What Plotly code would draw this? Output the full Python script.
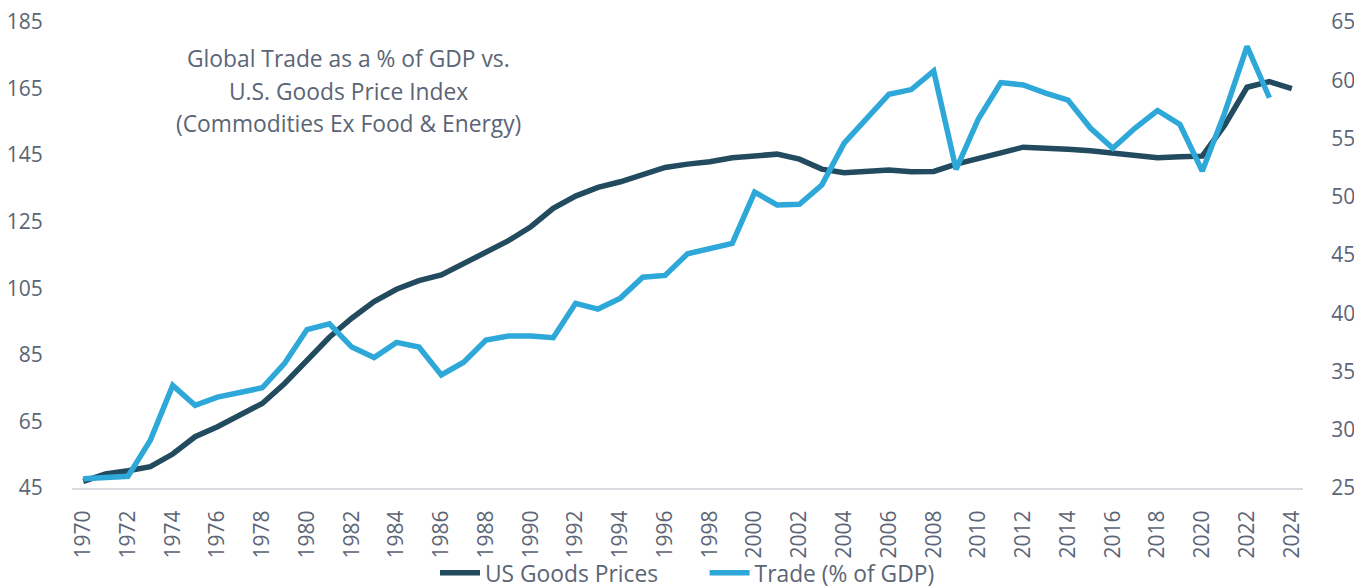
import plotly.graph_objects as go

years = list(range(1970, 2025))
us_goods_prices = [47.0, 49.2, 50.2, 51.4, 55.2, 60.4, 63.4, 66.7, 70.4, 76.4,
                   83.5, 90.3, 96.0, 101.0, 104.7, 107.3, 109.0, 112.3, 116.0, 119.3,
                   123.5, 129.0, 132.7, 135.3, 137.0, 139.3, 141.3, 142.3, 143.0, 144.2,
                   144.8, 145.3, 143.8, 140.8, 139.7, 140.3, 140.5, 140.0, 140.1, 142.3,
                   143.8, 145.7, 147.4, 147.2, 146.8, 146.3, 145.6, 144.5, 144.2, 144.5,
                   144.7, 154.0, 165.4, 167.1, 165.0]
trade_years = list(range(1970, 2024))
trade_pct_gdp = [25.8, 25.9, 26.0, 29.1, 33.8, 32.1, 32.8, 33.2, 33.6, 35.7,
                 38.6, 39.1, 37.1, 36.2, 37.5, 37.1, 34.7, 35.8, 37.7, 38.05,
                 38.05, 37.9, 40.85, 40.36, 41.3, 43.1, 43.25, 45.1, 45.6, 46.0,
                 50.4, 49.3, 49.35, 51.0, 54.6, 56.7, 58.8, 59.2, 60.8, 52.35,
                 56.7, 59.8, 59.6, 58.9, 58.3, 55.9, 54.15, 55.9, 57.4, 56.2,
                 52.2, 57.2, 62.9, 58.5]

series_names = ["US Goods Prices", "Trade (% of GDP)"]
title_lines = ["Global Trade as a % of GDP vs.", "U.S. Goods Price Index",
               "(Commodities Ex Food & Energy)"]

FONT = "Open Sans"
TXT = "#5b6576"
ML, MR, MT, MB = 72, 51, 22, 100
W, H = 1354, 588
pw = W - ML - MR
ph = H - MT - MB
NBSP = "\u00a0"

fig = go.Figure()
fig.add_trace(go.Scatter(x=years, y=us_goods_prices, name=series_names[0] + NBSP * 7,
                         mode="lines", line=dict(color="#234b5f", width=5.5)))
fig.add_trace(go.Scatter(x=trade_years, y=trade_pct_gdp, name=series_names[1],
                         mode="lines", line=dict(color="#2ea8d8", width=5.5),
                         yaxis="y2"))

annotations = []
for i, line in enumerate(title_lines):
    ypix = 58 + 33 * i
    annotations.append(dict(text=line, x=(348 - ML) / pw, y=1 - (ypix - MT) / ph,
                            xref="paper", yref="paper", showarrow=False,
                            xanchor="center", yanchor="middle",
                            font=dict(family=FONT, size=22.8, color=TXT)))

fig.update_layout(
    width=W, height=H,
    margin=dict(l=ML, r=MR, t=MT, b=MB, autoexpand=False),
    paper_bgcolor="white", plot_bgcolor="white",
    font=dict(family=FONT, size=21, color=TXT),
    showlegend=True,
    legend=dict(orientation="h", x=0.5, xanchor="center", y=-(573 - 488) / ph,
                yanchor="middle", bgcolor="rgba(0,0,0,0)",
                font=dict(family=FONT, size=22.8, color=TXT),
                itemwidth=40, tracegroupgap=0),
    xaxis=dict(range=[1969.5, 2024.5], tickmode="linear", tick0=1970, dtick=2,
               tickangle=-90, showgrid=False, zeroline=False, automargin=False,
               showline=True, linecolor="#d9dbe0", linewidth=2,
               ticks="outside", ticklen=12, tickcolor="rgba(0,0,0,0)",
               tickfont=dict(size=21, color=TXT)),
    yaxis=dict(range=[45, 185], tickmode="linear", tick0=45, dtick=20,
               showgrid=False, zeroline=False, showline=False, automargin=False,
               ticks="outside", ticklen=24, tickcolor="rgba(0,0,0,0)",
               tickfont=dict(size=21, color=TXT)),
    yaxis2=dict(range=[25, 65], tickmode="linear", tick0=25, dtick=5,
                overlaying="y", side="right", automargin=False,
                showgrid=False, zeroline=False, showline=False,
                ticks="outside", ticklen=23, tickcolor="rgba(0,0,0,0)",
                tickfont=dict(size=21, color=TXT)),
    annotations=annotations,
)

fig.write_html("out.html", config={"displayModeBar": False},
               post_script="document.body.style.margin='0';"
                           "document.body.style.overflow='hidden';")
